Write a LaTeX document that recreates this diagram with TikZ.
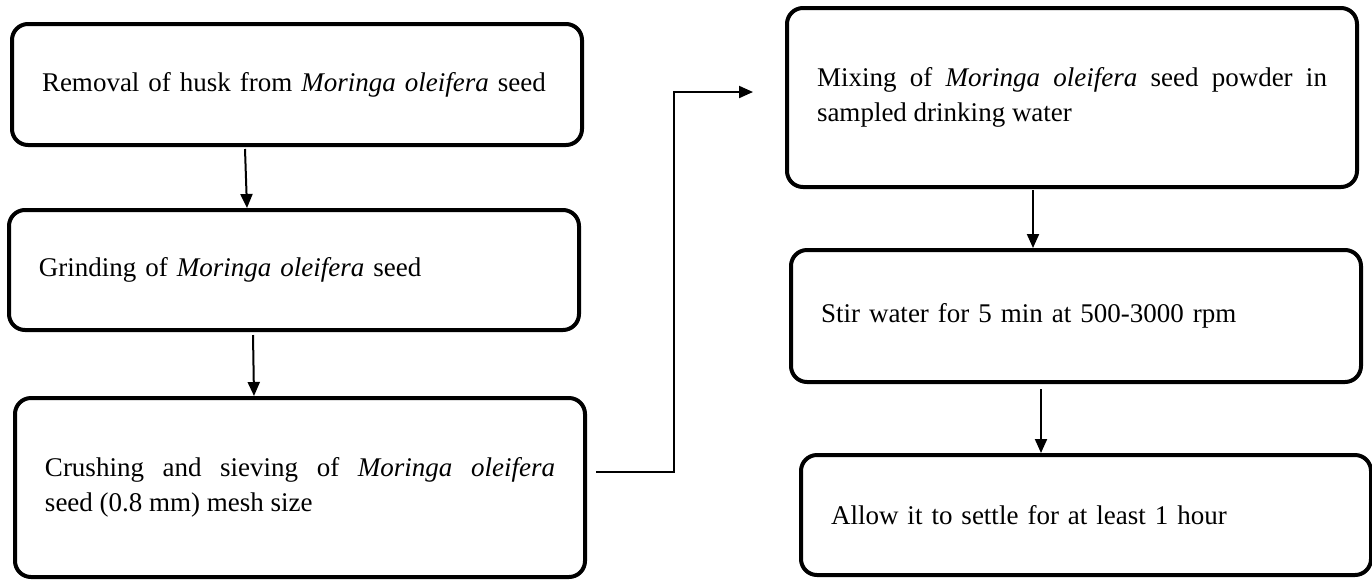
\documentclass[tikz,border=0pt]{standalone}
\usepackage{fontspec}
\setmainfont{Liberation Serif}
\usetikzlibrary{arrows.meta,calc}
\tikzset{
  stepbox/.style={draw, line width=2pt, rounded corners=8pt, text width=255pt,
    inner xsep=15pt, inner ysep=0pt, minimum width=285pt, align=left,
    font=\fontsize{13.5}{17.5}\selectfont},
  flow/.style={-{Triangle[length=7pt,width=6pt]}, line width=1pt},
}
\begin{document}
\begin{tikzpicture}[x=0.5pt,y=-0.5pt]
  \useasboundingbox (0,0) rectangle (1372,580);

  % left column
  \node[stepbox, minimum height=60.5pt] (husk) at (297,84.5)
    {Removal of husk from \textit{Moringa oleifera} seed};
  \node[stepbox, minimum height=60pt] (grind) at (294,270)
    {Grinding of \textit{Moringa oleifera} seed};
  \node[stepbox, minimum height=89.5pt, align=justify] (crush) at (300,487.5)
    {Crushing and sieving of \textit{Moringa oleifera}\linebreak seed (0.8 mm) mesh size};

  % right column
  \node[stepbox, minimum height=89.5pt, align=justify] (mix) at (1072,97.5)
    {Mixing of \textit{Moringa oleifera} seed powder in\linebreak sampled drinking water};
  \node[stepbox, minimum height=66pt] (stir) at (1076,316)
    {Stir water for 5 min at 500-3000 rpm};
  \node[stepbox, minimum height=60pt] (settle) at (1086,515)
    {Allow it to settle for at least 1 hour};

  \draw[flow] ($(husk.south)+(-52,2)$) -- ($(grind.north)+(-47,0)$);
  \draw[flow] ($(grind.south)+(-41,3)$) -- ($(crush.north)+(-46,0)$);
  \draw[flow] ($(mix.south)+(-39,1)$) -- ($(stir.north)+(-43,0)$);
  \draw[flow] ($(stir.south)+(-35,5)$) -- ($(settle.north)+(-45,0)$);

  % crossing over to the second column
  \coordinate (bend) at (674,92);
  \coordinate (mixin) at (753,92);
  \draw[flow] ($(crush.east)+(9,-15.5)$) -| (bend) -- (mixin);
\end{tikzpicture}
\end{document}
